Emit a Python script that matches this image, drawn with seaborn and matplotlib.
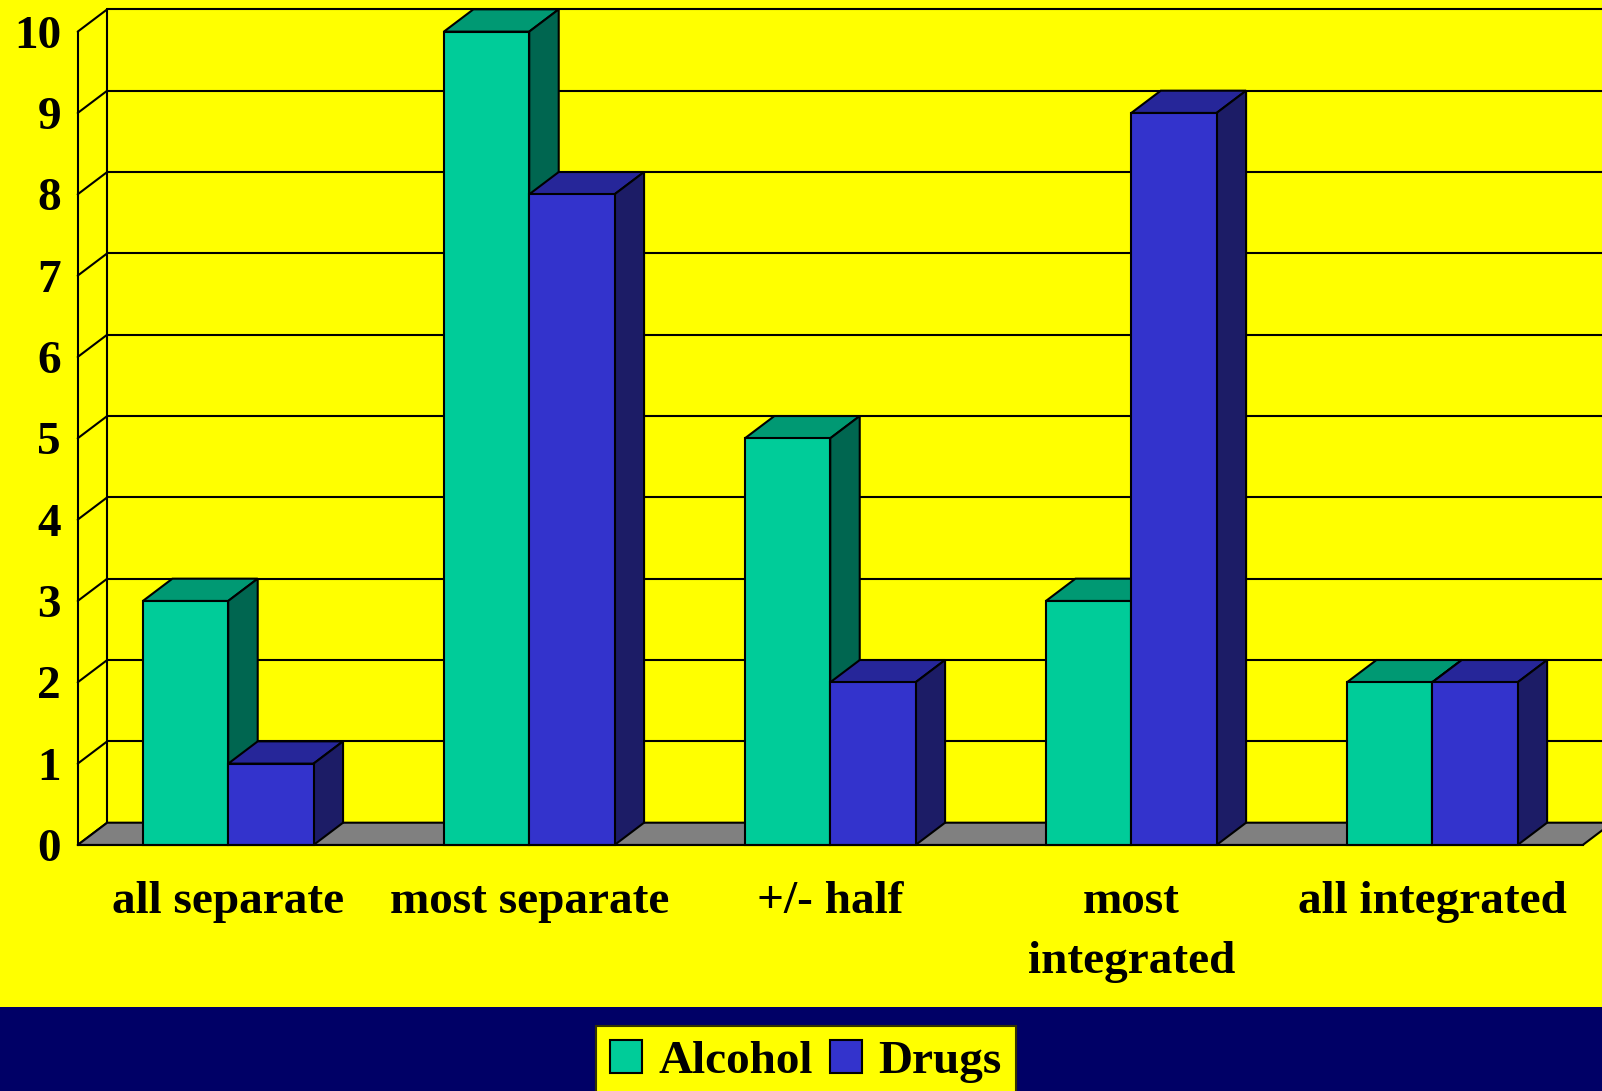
import matplotlib
matplotlib.use("Agg")
import matplotlib.pyplot as plt
from matplotlib.patches import Polygon, Rectangle, Patch
from matplotlib.lines import Line2D
import seaborn as sns
import pandas as pd

# ---- data -------------------------------------------------------------
categories = ["all separate", "most separate", "+/- half", "most\nintegrated", "all integrated"]
series_names = ["Alcohol", "Drugs"]
alcohol = [3, 10, 5, 3, 2]
drugs = [1, 8, 2, 9, 2]
y_ticks = list(range(0, 11))

# ---- styling ----------------------------------------------------------
YELLOW = "#FFFF00"
NAVY = "#000066"
FLOOR = "#808080"
front_colors = {"Alcohol": "#00CC99", "Drugs": "#3333CC"}
top_colors = {"Alcohol": "#009973", "Drugs": "#262699"}
side_colors = {"Alcohol": "#006650", "Drugs": "#1C1C66"}

sns.set_style("white")
plt.rcParams["font.family"] = ["Liberation Serif", "DejaVu Serif"]
plt.rcParams["font.weight"] = "bold"
plt.rcParams["text.color"] = "black"
plt.rcParams["xtick.color"] = "black"
plt.rcParams["ytick.color"] = "black"
plt.rcParams["xtick.labelcolor"] = "black"
plt.rcParams["ytick.labelcolor"] = "black"
FS = 34

df = pd.DataFrame({
    "category": categories * 2,
    "series": [series_names[0]] * len(categories) + [series_names[1]] * len(categories),
    "value": alcohol + drugs,
})

fig = plt.figure(figsize=(16.02, 10.91), dpi=100, facecolor=YELLOW)
ax = fig.add_axes([0.0485, 0.2255, 0.9395, 0.7455])
ax.set_facecolor("none")

sns.barplot(data=df, x="category", y="value", hue="series", order=categories,
            hue_order=series_names, palette=front_colors, width=0.567,
            edgecolor="black", linewidth=1.5, saturation=1, legend=False, ax=ax)

ax.set_xlim(-0.5, len(categories) - 0.5)
ax.set_ylim(0, 10)

# depth of the 3-D box in data units
DX, DY = 0.098, 0.274
x0, x1 = -0.5, len(categories) - 0.5

# back wall grid and left wall diagonals
for k in y_ticks:
    ax.add_line(Line2D([x0, x0 + DX], [k, k + DY], color="black", lw=1.5,
                       clip_on=False, zorder=1))
    if k > 0:
        ax.add_line(Line2D([x0 + DX, x1 + 1], [k + DY, k + DY], color="black",
                           lw=1.5, clip_on=False, zorder=1))
ax.add_line(Line2D([x0 + DX, x0 + DX], [DY, 10 + DY], color="black", lw=1.5,
                   clip_on=False, zorder=1))

# floor
ax.add_patch(Polygon([(x0, 0), (x1, 0), (x1 + DX, DY), (x0 + DX, DY)],
                     closed=True, facecolor=FLOOR, edgecolor="black", lw=1.5,
                     clip_on=False, zorder=2))

# extrude every bar: top and side faces, painted left to right
bars = sorted([p for p in ax.patches if isinstance(p, Rectangle)],
              key=lambda p: p.get_x())
for i, bar in enumerate(bars):
    bx, bw, bh = bar.get_x(), bar.get_width(), bar.get_height()
    name = series_names[0] if bar.get_facecolor()[2] < 0.7 else series_names[1]
    z = 3 + 2 * i
    top = Polygon([(bx, bh), (bx + bw, bh), (bx + bw + DX, bh + DY), (bx + DX, bh + DY)],
                  closed=True, facecolor=top_colors[name], edgecolor="black",
                  lw=1.5, clip_on=False, zorder=z)
    side = Polygon([(bx + bw, 0), (bx + bw + DX, DY), (bx + bw + DX, bh + DY), (bx + bw, bh)],
                   closed=True, facecolor=side_colors[name], edgecolor="black",
                   lw=1.5, clip_on=False, zorder=z)
    ax.add_patch(top)
    ax.add_patch(side)
    bar.set_zorder(z + 1)
    bar.set_clip_on(False)

# axes, ticks and labels
for s in ["top", "right"]:
    ax.spines[s].set_visible(False)
for s in ["left", "bottom"]:
    ax.spines[s].set_color("black")
    ax.spines[s].set_linewidth(1.5)
    ax.spines[s].set_zorder(40)

ax.set_yticks(y_ticks)
ax.set_yticklabels([str(v) for v in y_ticks], fontsize=FS, fontweight="bold",
                   color="black")
ax.tick_params(axis="y", direction="out", length=10.5, width=1.5, pad=1.5,
               color="black")

ax.set_xticks(range(len(categories)))
ax.set_xticklabels(categories, fontsize=FS, fontweight="bold", linespacing=1.55,
                   color="black")
ax.set_xticks([i - 0.5 for i in range(len(categories) + 1)], minor=True)
ax.tick_params(axis="x", which="major", length=0, pad=26)
ax.tick_params(axis="x", which="minor", direction="out", length=10.8, width=1.5,
               color="black")
ax.set_xlabel("")
ax.set_ylabel("")

# navy band along the bottom
fig.add_artist(Rectangle((0, 0), 1, 0.0773, transform=fig.transFigure,
                         facecolor=NAVY, edgecolor="none", zorder=-1))

handles = [Patch(facecolor=front_colors[n], edgecolor="black", lw=1.5) for n in series_names]
leg = fig.legend(handles, series_names, loc="upper center",
                 bbox_to_anchor=(0.503, 0.0596), ncol=2, frameon=True,
                 fancybox=False, facecolor=YELLOW, edgecolor="#333300",
                 prop={"family": "Liberation Serif", "weight": "bold", "size": FS},
                 handlelength=0.68, handleheight=0.68, handletextpad=0.34,
                 columnspacing=0.37, borderpad=0.3, borderaxespad=0)
leg.get_frame().set_linewidth(1.5)
leg.get_frame().set_alpha(1)
for t in leg.get_texts():
    t.set_color("black")

fig.savefig("out.png", dpi=100, facecolor=YELLOW)
